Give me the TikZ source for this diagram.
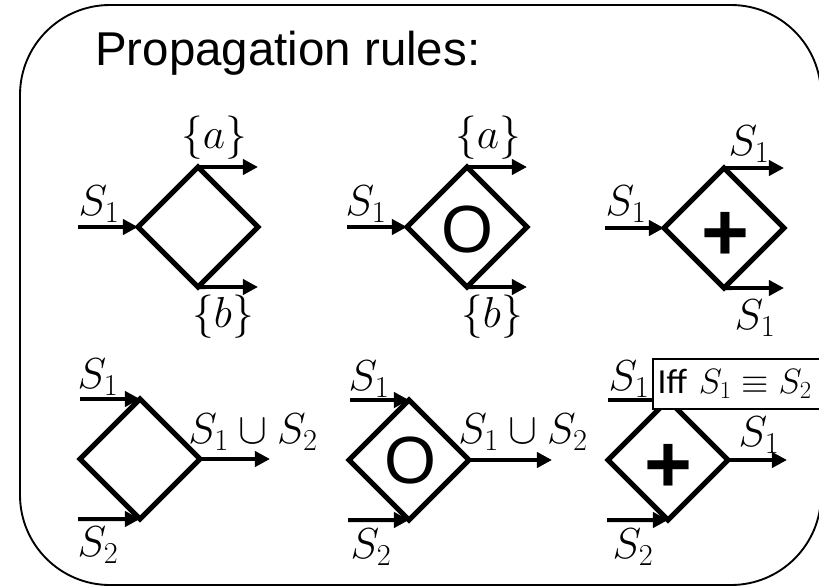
\RequirePackage{fix-cm}
\documentclass[tikz,border=0pt]{standalone}
\usepackage{fontspec}
\newfontfamily\arialf{Liberation Sans}
\newfontfamily\calibf{Carlito}
\usetikzlibrary{shapes.geometric,arrows.meta}
\tikzset{
  gate/.style={diamond, draw, line width=4.3pt, line join=miter, aspect=1,
    minimum width=3.6cm, minimum height=3.6cm, inner sep=0pt, outer sep=0pt},
  flow/.style={line width=3.4pt, -{Triangle[length=13pt,width=13pt]}},
  lab/.style={inner sep=0pt, font=\fontsize{37}{42}\selectfont},
  sym/.style={inner sep=0pt, font=\arialf\fontsize{57}{60}\selectfont},
  plussym/.style={inner sep=0pt, font=\arialf\bfseries\fontsize{70}{70}\selectfont},
  frame/.style={draw, line width=1.6pt, rounded corners=2.7cm},
  iffbox/.style={draw, fill=white, line width=1.7pt, anchor=west, minimum height=1.5cm,
    text width=4.9cm, align=left, inner sep=4pt, font=\calibf\fontsize{30}{32}\selectfont},
}
\begin{document}
\begin{tikzpicture}[x=0.03cm, y=-0.03cm]
\useasboundingbox (0,0) rectangle (819,586);
\draw[frame] (20,5) rectangle (821,585);
\node[anchor=base west, inner sep=0pt, font=\arialf\fontsize{40.5}{44}\selectfont] (title) at (95,65) {Propagation rules:};

% ---- top row ----
% diamond 1
\node[gate] (d1) at (198,227) {};
\coordinate (i1) at (78,227);
\coordinate (o1a) at (258,167);
\coordinate (o1b) at (258,287);
\draw[flow] (i1) -- (d1.west);
\draw[flow] (d1.north) -- (o1a);
\draw[flow] (d1.south) -- (o1b);
\node[lab] (l1i) at (99,204) {$S_1$};
\node[lab] (l1a) at (214,138) {$\{a\}$};
\node[lab] (l1b) at (223,317) {$\{b\}$};

% diamond 2
\node[gate] (d2) at (467,227) {};
\node[sym] (s2) at (467,230) {O};
\coordinate (i2) at (347,227);
\coordinate (o2a) at (527,167);
\coordinate (o2b) at (527,287);
\draw[flow] (i2) -- (d2.west);
\draw[flow] (d2.north) -- (o2a);
\draw[flow] (d2.south) -- (o2b);
\node[lab] (l2i) at (366,204) {$S_1$};
\node[lab] (l2a) at (488,138) {$\{a\}$};
\node[lab] (l2b) at (492,317) {$\{b\}$};

% diamond 3
\node[gate] (d3) at (724,228) {};
\node[plussym] (s3) at (725,236) {+};
\coordinate (i3) at (605,228);
\coordinate (o3a) at (784,168);
\coordinate (o3b) at (784,288);
\draw[flow] (i3) -- (d3.west);
\draw[flow] (d3.north) -- (o3a);
\draw[flow] (d3.south) -- (o3b);
\node[lab] (l3i) at (626,204) {$S_1$};
\node[lab] (l3a) at (749,144) {$S_1$};
\node[lab] (l3b) at (755,318) {$S_1$};

% ---- bottom row ----
% diamond 4
\node[gate] (d4) at (140,459) {};
\coordinate (i4a) at (80,399);
\coordinate (i4b) at (78,519);
\coordinate (o4) at (270,459);
\draw[flow] (i4a) -- (d4.north);
\draw[flow] (i4b) -- (d4.south);
\draw[flow] (d4.east) -- (o4);
\node[lab] (l4a) at (98,377) {$S_1$};
\node[lab] (l4b) at (98,545) {$S_2$};
\node[lab] (l4o) at (253,432) {$S_1\cup S_2$};

% diamond 5
\node[gate] (d5) at (409,460) {};
\node[sym] (s5) at (410,461) {O};
\coordinate (i5a) at (350,400);
\coordinate (i5b) at (348,520);
\coordinate (o5) at (552,460);
\draw[flow] (i5a) -- (d5.north);
\draw[flow] (i5b) -- (d5.south);
\draw[flow] (d5.east) -- (o5);
\node[lab] (l5a) at (369,379) {$S_1$};
\node[lab] (l5b) at (371,547) {$S_2$};
\node[lab] (l5o) at (523,432) {$S_1\cup S_2$};

% diamond 6
\node[gate] (d6) at (668,460) {};
\node[plussym] (s6) at (668,468) {+};
\coordinate (i6a) at (608,400);
\coordinate (i6b) at (607,520);
\coordinate (o6) at (787,460);
\draw[flow] (i6a) -- (d6.north);
\draw[flow] (i6b) -- (d6.south);
\draw[flow] (d6.east) -- (o6);
\node[lab] (l6a) at (629,379) {$S_1$};
\node[lab] (l6b) at (633,547) {$S_2$};
\node[lab] (l6o) at (759,435) {$S_1$};
\node[iffbox] (iff) at (652,384) {Iff $S_1\equiv S_2$};
\end{tikzpicture}
\end{document}
